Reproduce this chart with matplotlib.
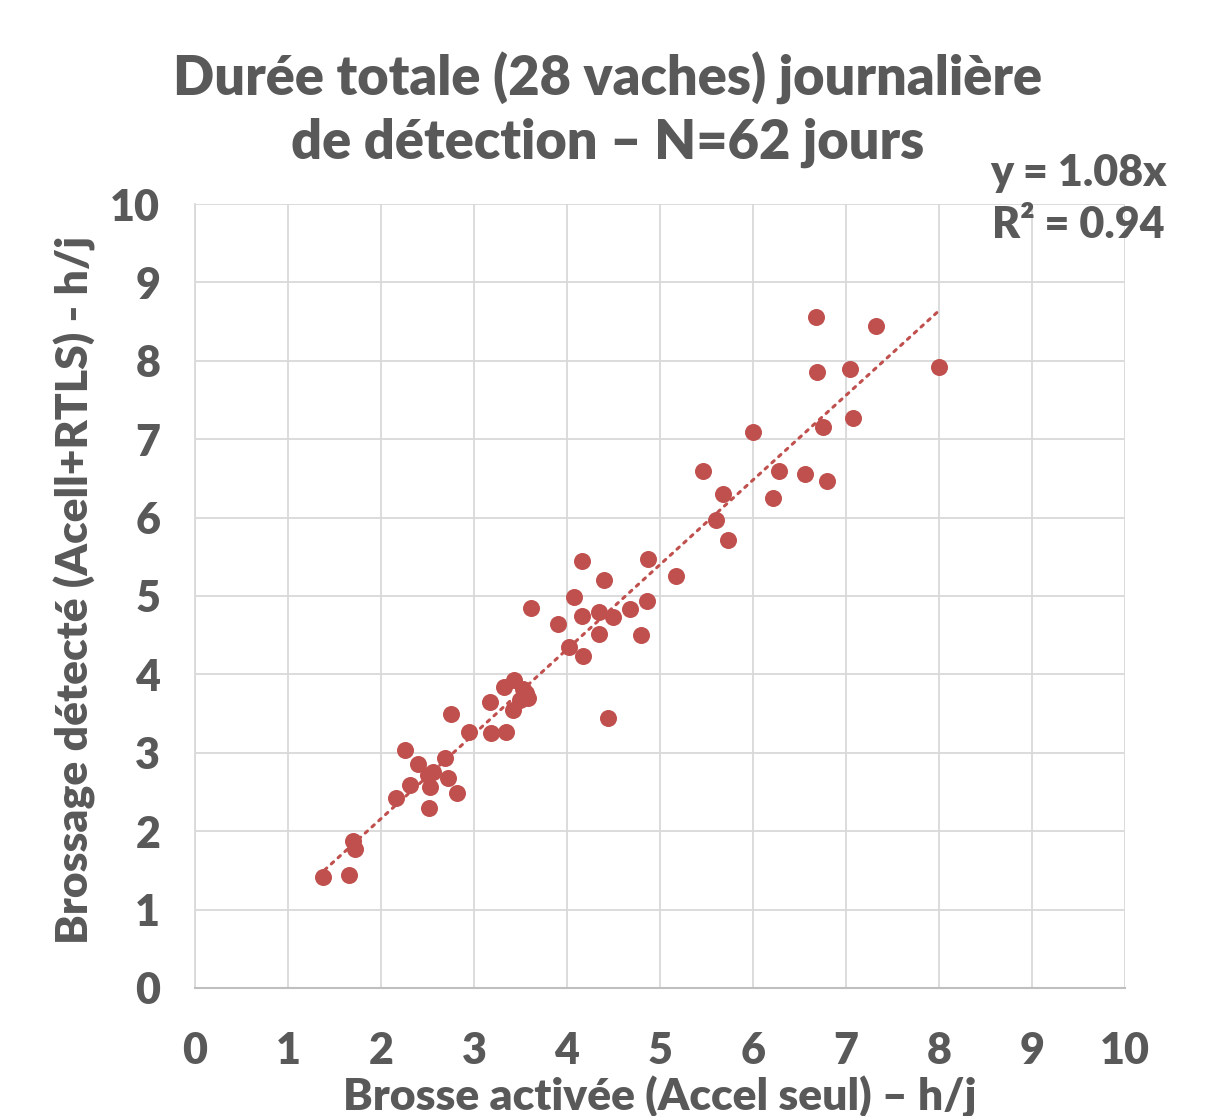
import matplotlib
matplotlib.use("Agg")
import matplotlib.pyplot as plt
import numpy as np

x_vals = [1.38, 1.66, 1.70, 1.72, 2.16, 2.31, 2.52, 2.53, 2.72, 2.82,
          2.56, 2.40, 2.26, 2.69, 2.75, 2.95, 3.18, 3.34, 3.17, 3.32,
          3.43, 3.53, 3.58, 3.42, 3.49, 2.50, 3.56,
          4.16, 4.87, 4.40, 5.17, 4.07, 3.61, 4.16, 4.34, 4.49, 4.68,
          4.86, 3.90, 4.34, 4.80, 4.02, 4.17, 4.44,
          6.68, 7.32, 6.69, 7.04, 8.00, 7.07, 6.75, 6.00, 5.46, 6.28,
          6.56, 6.80, 5.68, 6.21, 5.60, 5.73]
y_vals = [1.42, 1.44, 1.88, 1.77, 2.42, 2.59, 2.29, 2.57, 2.68, 2.49,
          2.76, 2.86, 3.03, 2.93, 3.49, 3.26, 3.25, 3.26, 3.65, 3.84,
          3.93, 3.82, 3.70, 3.55, 3.67, 2.72, 3.76,
          5.45, 5.47, 5.20, 5.26, 4.99, 4.85, 4.75, 4.80, 4.73, 4.84,
          4.93, 4.64, 4.51, 4.50, 4.35, 4.23, 3.45,
          8.56, 8.44, 7.86, 7.90, 7.92, 7.27, 7.15, 7.09, 6.59, 6.60,
          6.56, 6.47, 6.30, 6.25, 5.97, 5.71]
slope = 1.08
title = "Durée totale (28 vaches) journalière\nde détection – N=62 jours"
xlabel = "Brosse activée (Accel seul) – h/j"
ylabel = "Brossage détecté (Acell+RTLS) - h/j"
eq_text = "y = 1.08x\nR² = 0.94"

plt.rcParams['font.family'] = ['Lato', 'DejaVu Sans']
grey = '#595959'
red = '#C0504D'

fig = plt.figure(figsize=(12.06, 11.16), dpi=100)
W, H = 1206, 1116
ax = fig.add_axes([195 / W, (H - 988) / H, (1125 - 195) / W, (988 - 204) / H])

ax.set_xlim(0, 10)
ax.set_ylim(0, 10)
ax.set_xticks(range(0, 11))
ax.set_yticks(range(0, 11))
ax.grid(True, color='#D9D9D9', linewidth=1.3)
ax.set_axisbelow(True)
for s in ['top', 'right']:
    ax.spines[s].set_visible(False)
ax.spines['left'].set_color('#D9D9D9')
ax.spines['left'].set_linewidth(1.3)
ax.spines['bottom'].set_color('#BFBFBF')
ax.spines['bottom'].set_linewidth(1.5)
ax.tick_params(length=0, labelsize=31, labelcolor=grey)
ax.tick_params(axis='x', pad=31)
ax.tick_params(axis='y', pad=25)
for lab in ax.get_xticklabels() + ax.get_yticklabels():
    lab.set_fontweight('heavy')

ax.scatter(x_vals, y_vals, s=150, color=red, zorder=3, linewidths=0)
xmin, xmax = min(x_vals), max(x_vals)
xt = np.array([xmin - 0.06, xmax])
ax.plot(xt, slope * xt, linestyle=(0, (1, 2)), color=red, linewidth=2.2,
        dash_capstyle='round', zorder=2)

fig.text(608 / W, 1 - 110 / H, title, ha='center', va='center', fontsize=39,
         fontweight='heavy', color=grey, linespacing=1.3)
fig.text(1078 / W, 1 - 199 / H, eq_text, ha='center', va='center', fontsize=31,
         fontweight='heavy', color=grey, linespacing=1.35)
fig.text(660 / W, 1 - 1097 / H, xlabel, ha='center', va='center', fontsize=32,
         fontweight='heavy', color=grey)
fig.text(75 / W, 1 - 590 / H, ylabel, ha='center', va='center', fontsize=32,
         fontweight='heavy', color=grey, rotation=90)

fig.savefig('out.png', dpi=100)
